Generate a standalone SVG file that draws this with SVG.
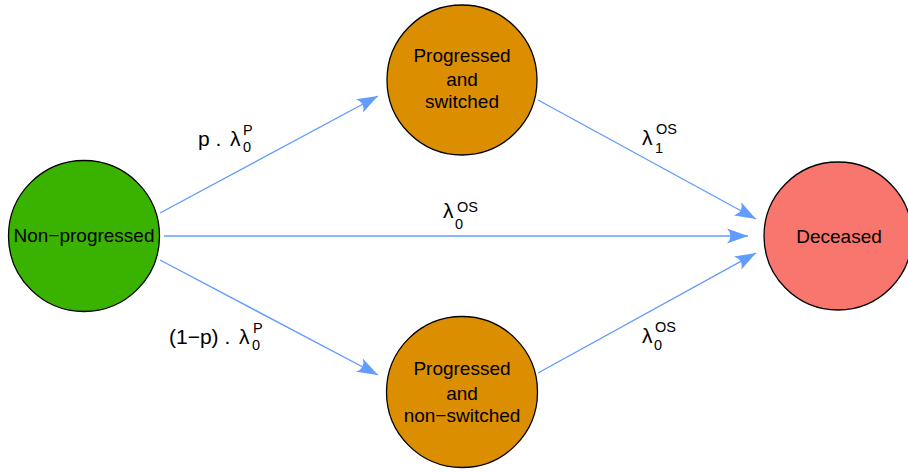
<svg xmlns="http://www.w3.org/2000/svg" width="908" height="472" viewBox="0 0 908 472">
  <style>
    .node { stroke: #000; stroke-width: 1.3; }
    .ntext { font-family: "Liberation Sans", Arial, sans-serif; font-size: 19px; fill: #000; text-anchor: middle; }
    .edge { stroke: #619CFF; stroke-width: 1.4; fill: none; marker-end: url(#arrow); }
    .lab { font-family: "Liberation Sans", Arial, sans-serif; font-size: 21px; fill: #000; }
    .ss { font-size: 14.5px; }
  </style>
  <defs>
    <marker id="arrow" markerUnits="userSpaceOnUse" viewBox="-22 -10 24 20" markerWidth="24" markerHeight="20" refX="0" refY="0" orient="auto">
      <path d="M0,0 L-21,-7.5 Q-14,0 -21,7.5 Z" fill="#619CFF"/>
    </marker>
  </defs>
  <rect width="908" height="472" fill="#fff"/>
  <g id="connectors">
    <line class="edge" x1="160" y1="213" x2="378" y2="96"/>
    <line class="edge" x1="538" y1="100" x2="756" y2="219"/>
    <line class="edge" x1="164" y1="236" x2="748" y2="236"/>
    <line class="edge" x1="160" y1="260" x2="378" y2="375"/>
    <line class="edge" x1="538" y1="373" x2="756" y2="253"/>
  </g>
  <g id="labels">
    <text class="lab" x="198" y="146">p . <tspan x="230">λ</tspan><tspan class="ss" x="243" y="152">0</tspan><tspan class="ss" x="243" y="135">P</tspan></text>
    <text class="lab" x="642" y="145">λ<tspan class="ss" x="655" y="153">1</tspan><tspan class="ss" x="656" y="134">OS</tspan></text>
    <text class="lab" x="443" y="218">λ<tspan class="ss" x="455" y="229">0</tspan><tspan class="ss" x="457" y="212">OS</tspan></text>
    <text class="lab" x="169" y="344">(1−p) . <tspan x="239">λ</tspan><tspan class="ss" x="252" y="350">0</tspan><tspan class="ss" x="253" y="333">P</tspan></text>
    <text class="lab" x="642" y="343">λ<tspan class="ss" x="654" y="350">0</tspan><tspan class="ss" x="655" y="332">OS</tspan></text>
  </g>
  <g id="non-progressed">
    <circle class="node" cx="84" cy="236" r="75.5" fill="#39B300"/>
    <text class="ntext" x="84" y="242">Non−progressed</text>
  </g>
  <g id="progressed-switched">
    <circle class="node" cx="462" cy="80" r="75" fill="#DB8E00"/>
    <text class="ntext" x="462" y="62">Progressed</text>
    <text class="ntext" x="462" y="86">and</text>
    <text class="ntext" x="462" y="108">switched</text>
  </g>
  <g id="progressed-nonswitched">
    <circle class="node" cx="462" cy="392" r="75.5" fill="#DB8E00"/>
    <text class="ntext" x="462" y="375">Progressed</text>
    <text class="ntext" x="462" y="400">and</text>
    <text class="ntext" x="462" y="422">non−switched</text>
  </g>
  <g id="deceased">
    <circle class="node" cx="838" cy="236" r="74" fill="#F8766D"/>
    <text class="ntext" x="839" y="243">Deceased</text>
  </g>
</svg>
